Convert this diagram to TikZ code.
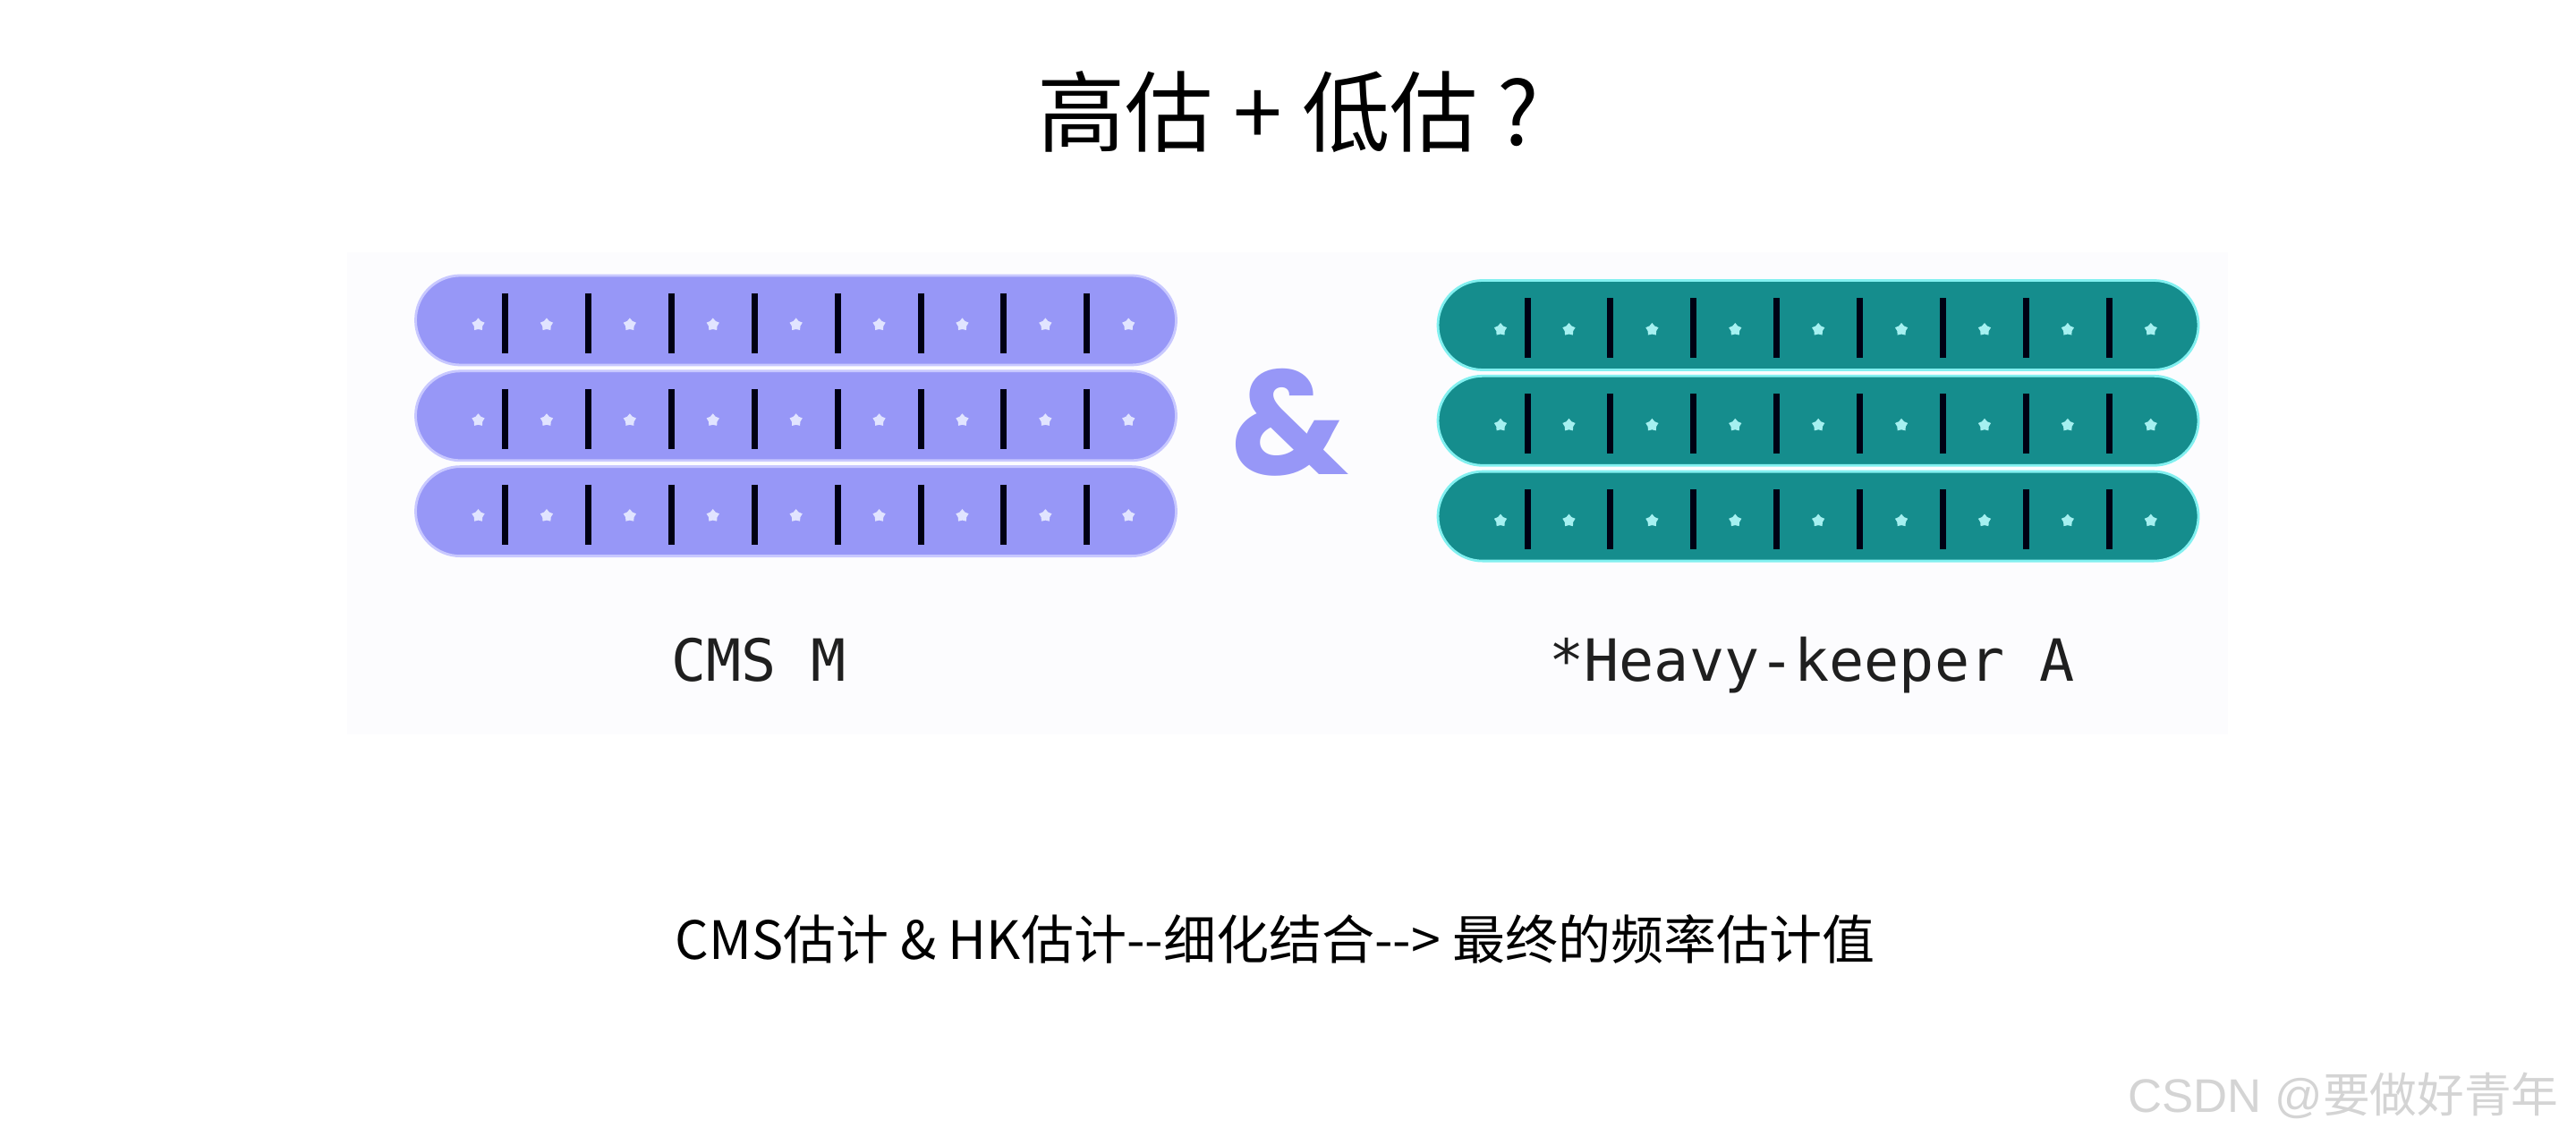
\documentclass[tikz,border=0pt]{standalone}
\usepackage{fontspec}
\setmonofont{DejaVu Sans Mono}
\newfontfamily\cjkfont{Noto Sans CJK SC}
\newfontfamily\ampfont{Poppins}
\newfontfamily\markfont{Liberation Sans}
\usetikzlibrary{positioning, shapes.geometric}

\definecolor{cmsblue}{RGB}{151,151,247}
\definecolor{cmsglow}{RGB}{200,200,255}
\definecolor{hkteal}{RGB}{21,141,141}
\definecolor{hkglow}{RGB}{130,240,240}
\definecolor{cmsstar}{RGB}{225,228,255}
\definecolor{hkstar}{RGB}{165,240,240}
\definecolor{panelbg}{RGB}{252,252,254}
\definecolor{marktext}{RGB}{212,212,212}

\begin{document}
\begin{tikzpicture}[
      bar_cms/.style={rectangle, rounded corners=0.5cm, minimum width=8.5cm, minimum height=1.0cm, inner sep=0pt, fill=cmsblue, draw=cmsglow, line width=0.8pt},
      bar_hk/.style={bar_cms, fill=hkteal, draw=hkglow},
      cell_sep/.style={line width=2pt, draw=black!92!blue},
      cell_star/.style={star, star points=5, minimum size=0.15cm, inner sep=0pt, fill=#1, draw=none},
      label_mono/.style={font=\ttfamily\fontsize{18.5}{22}\selectfont, text=black!88, anchor=base},
      node distance=0.04cm
    ]
      \fill[white] (0,0) rectangle (28.79,-12.80);
      \useasboundingbox (0,0) rectangle (28.79,-12.80);
      \fill[panelbg] (3.88,-2.82) rectangle (24.90,-8.21);

      \node[font=\cjkfont\fontsize{28}{32}\selectfont] (title) at (14.40,-1.25) {高估 + 低估 ?};

      % the two sketches
      \node[bar_cms] (cms1) at (8.895,-3.58) {};
      \node[bar_cms, below=of cms1] (cms2) {};
      \node[bar_cms, below=of cms2] (cms3) {};
      \node[bar_hk] (hk1) at (20.32,-3.635) {};
      \node[bar_hk, below=of hk1] (hk2) {};
      \node[bar_hk, below=of hk2] (hk3) {};

      \foreach \b/\c in {cms1/cmsstar, cms2/cmsstar, cms3/cmsstar, hk1/hkstar, hk2/hkstar, hk3/hkstar} {
        \begin{scope}[shift={(\b.center)}]
          \foreach \k in {0,...,7}
            \draw[cell_sep] (-3.25+0.929*\k, 0.30) -- (-3.25+0.929*\k, -0.37);
          \node[cell_star=\c] (\b-s0) at (-3.55, -0.05) {};
          \foreach \k in {1,...,8}
            \node[cell_star=\c] (\b-s\k) at (-3.25+0.929*\k-0.4645, -0.05) {};
        \end{scope}
      }

      \node[font=\ampfont\bfseries\fontsize{47}{50}\selectfont, text=cmsblue] (amp) at (14.41,-4.72) {\&};

      \node[label_mono] (cmslabel) at (8.48,-7.62) {CMS M};
      \node[label_mono] (hklabel) at (20.25,-7.62) {*Heavy-keeper A};

      \node[font=\cjkfont\fontsize{16.8}{20}\selectfont] (summary) at (14.25,-10.50) {CMS估计 \& HK估计-{}-细化结合-{}-> 最终的频率估计值};

      \node[font=\fontsize{15}{18}\selectfont, text=marktext, anchor=east] (mark) at (28.72,-12.25) {\markfont CSDN @\cjkfont 要做好青年};
    \end{tikzpicture}
\end{document}
